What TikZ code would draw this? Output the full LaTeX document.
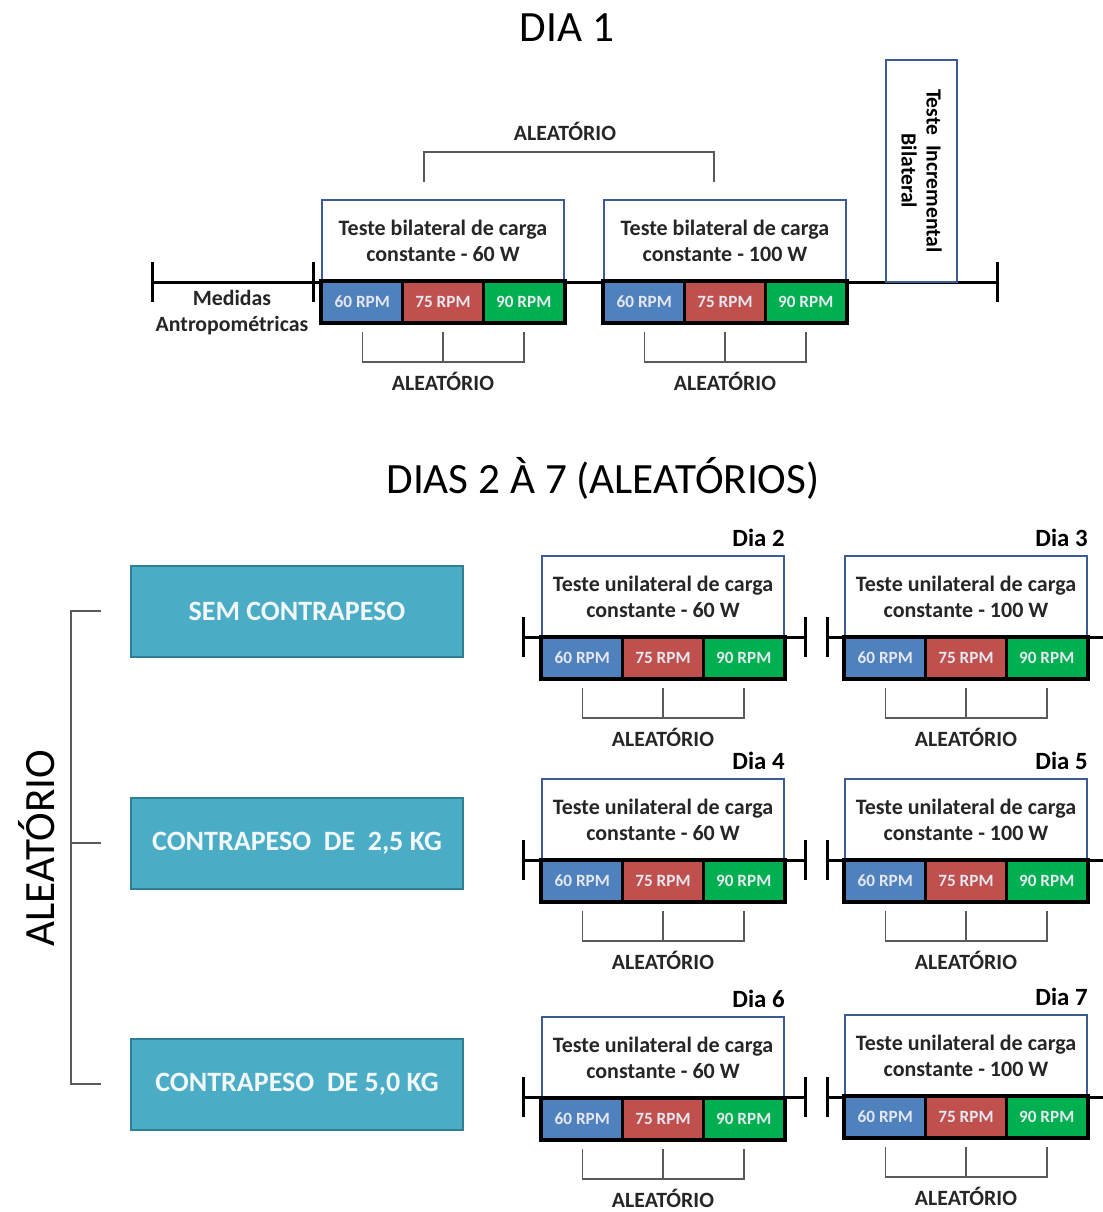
\documentclass[tikz,border=0pt]{standalone}
\usepackage{fontspec}
\setmainfont{Carlito}
\usetikzlibrary{positioning}

\definecolor{azul}{HTML}{4F81BD}
\definecolor{vermelho}{HTML}{C0504D}
\definecolor{verde}{HTML}{00B050}
\definecolor{bordaazul}{HTML}{3C5A96}
\definecolor{turquesa}{HTML}{4BACC6}
\definecolor{bordaturq}{HTML}{2F7F96}
\definecolor{cinza}{HTML}{5A5A5A}
\definecolor{rpmtexto}{HTML}{E4E6F0}

% painel: nome, x esquerdo, y topo, linha 1, linha 2
\newcommand{\painel}[5]{%
    \node[caixa] at (#2+121, #3+41) (#1) {#4\\#5};
    \node[rpm, fill=azul] at (#2+40.3, #3+102) (#1-60) {60 RPM};
    \node[rpm, fill=vermelho] at (#2+121, #3+102) (#1-75) {75 RPM};
    \node[rpm, fill=verde] at (#2+201.7, #3+102) (#1-90) {90 RPM};
    \draw[barra] (#1-60.north west) rectangle (#1-90.south east);
    \coordinate[below=4.5pt of #1-60] (#1-a);
    \coordinate[below=4.5pt of #1-75] (#1-b);
    \coordinate[below=4.5pt of #1-90] (#1-c);
    \draw[chave] (#1-a) -- ++(0,30) -| (#1-c);
    \draw[chave] (#1-b) -- ++(0,30);
    \node[aleat] at ([yshift=-24.5pt]#1-b) (#1-al) {ALEATÓRIO};
}

\begin{document}
\begin{tikzpicture}[x=0.5pt, y=-0.5pt,
    caixa/.style={draw=bordaazul, line width=1pt, fill=white, minimum width=121pt,
        minimum height=41pt, inner sep=0pt, align=center, text=black!85,
        font=\bfseries\fontsize{11}{13}\selectfont},
    rpm/.style={draw=black, line width=1.2pt, minimum width=40.3pt, minimum height=20pt,
        inner sep=0pt, text=rpmtexto, font=\bfseries\fontsize{8.6}{9}\selectfont},
    barra/.style={draw=black, line width=1.5pt},
    linha/.style={draw=black, line width=1.5pt},
    chave/.style={draw=cinza, line width=0.8pt},
    aleat/.style={font=\bfseries\fontsize{10.9}{13}\selectfont, text=black!85},
    dia/.style={font=\bfseries\fontsize{12.4}{13}\selectfont, anchor=south east, inner sep=0pt},
    carga/.style={draw=bordaturq, line width=1pt, fill=turquesa, minimum width=166pt,
        minimum height=45.5pt, text=white!92!turquesa, font=\bfseries\fontsize{14}{16}\selectfont},
    titulo/.style={font=\fontsize{21.6}{24}\selectfont}]

    \useasboundingbox (0,0) rectangle (1103,1212);

    % DIA 1
    \node[titulo] at (567, 28) (dia1) {DIA 1};

    \coordinate (t0) at (152, 282);
    \coordinate (t1) at (313, 282);
    \coordinate (t2) at (997, 282);
    \draw[linha] (t0) -- (t2);
    \draw[linha] ([yshift=10pt]t0) -- ([yshift=-10pt]t0);
    \draw[linha] ([yshift=10pt]t1) -- ([yshift=-10pt]t1);
    \draw[linha] ([yshift=10pt]t2) -- ([yshift=-10pt]t2);

    \node[aleat, align=center] at (232, 313) (medidas) {Medidas\\Antropométricas};

    \painel{b60}{322}{200}{Teste bilateral de carga}{constante - 60 W}
    \painel{b100}{604}{200}{Teste bilateral de carga}{constante - 100 W}

    \node[draw=bordaazul, line width=1pt, fill=white, rotate=-90, minimum width=111pt,
        minimum height=35.5pt, inner sep=0pt, align=center,
        font=\bfseries\fontsize{10.8}{12.5}\selectfont] at (921.5, 171) (incremental)
        {Teste \ Incremental\\Bilateral};

    \coordinate (s1) at (424, 182);
    \coordinate (s2) at (714, 182);
    \draw[chave] (s1) -- ++(0,-30) -| (s2);
    \node[aleat] at (565, 131) (aleat1) {ALEATÓRIO};

    % DIAS 2 A 7
    \node[titulo] at (603, 478) (dias) {DIAS 2 À 7 (ALEATÓRIOS)};

    \node[carga] at (297, 611) (sem) {SEM CONTRAPESO};
    \node[carga] at (297, 843) (c25) {CONTRAPESO \ DE \ 2,5 KG};
    \node[carga] at (297, 1084) (c50) {CONTRAPESO \ DE 5,0 KG};

    \coordinate[left=14.5pt of sem.west] (k1);
    \coordinate[left=14.5pt of c25.west] (k2);
    \coordinate[left=14.5pt of c50.west] (k3);
    \draw[chave] (k1) -- ++(-30,0) |- (k3);
    \draw[chave] (k2) -- ++(-30,0);
    \node[titulo, rotate=90] at (37, 848) (aleatv) {ALEATÓRIO};

    % linhas dos dias
    \foreach \y in {637, 860, 1097} {
        \draw[linha] (523,\y) -- (805,\y);
        \draw[linha] (523,\y-20) -- (523,\y+20);
        \draw[linha] (805,\y-20) -- (805,\y+20);
        \draw[linha] (827,\y) -- (1103,\y);
        \draw[linha] (827,\y-20) -- (827,\y+20);
    }

    \painel{d2}{542}{556}{Teste unilateral de carga}{constante - 60 W}
    \painel{d3}{845}{556}{Teste unilateral de carga}{constante - 100 W}
    \painel{d4}{542}{779}{Teste unilateral de carga}{constante - 60 W}
    \painel{d5}{845}{779}{Teste unilateral de carga}{constante - 100 W}
    \painel{d6}{542}{1017}{Teste unilateral de carga}{constante - 60 W}
    \painel{d7}{845}{1015}{Teste unilateral de carga}{constante - 100 W}

    \node[dia] at ([yshift=4pt]d2.north east) (dia2) {Dia 2};
    \node[dia] at ([yshift=4pt]d3.north east) (dia3) {Dia 3};
    \node[dia] at ([yshift=4pt]d4.north east) (dia4) {Dia 4};
    \node[dia] at ([yshift=4pt]d5.north east) (dia5) {Dia 5};
    \node[dia] at ([yshift=4pt]d6.north east) (dia6) {Dia 6};
    \node[dia] at ([yshift=4pt]d7.north east) (dia7) {Dia 7};
\end{tikzpicture}
\end{document}
